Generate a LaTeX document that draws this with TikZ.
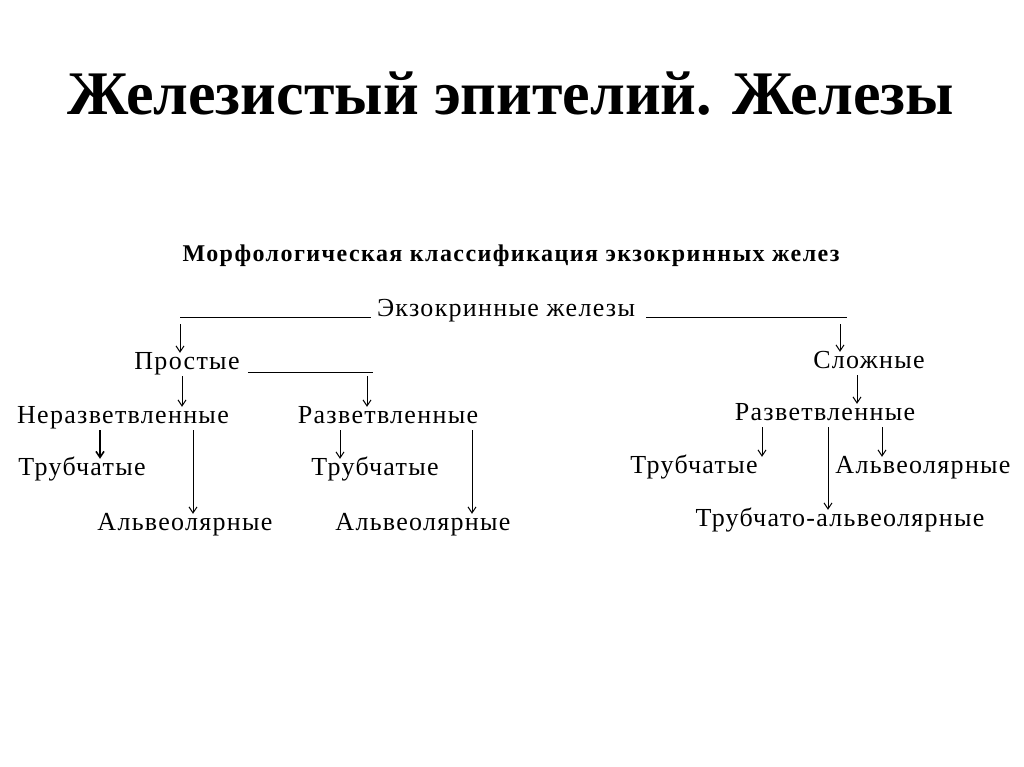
\documentclass[tikz,border=0pt]{standalone}
\usepackage{fontspec}
\setmainfont{Liberation Serif}
\newfontfamily\diagfont[LetterSpace=5]{Liberation Serif}
\newfontfamily\subfont[LetterSpace=6]{Liberation Serif}
\usetikzlibrary{arrows.meta}

\begin{document}
\begin{tikzpicture}[x=1pt, y=-1pt,
  ttl/.style={inner sep=0pt, anchor=base, font=\bfseries\fontsize{62}{62}\selectfont},
  sub/.style={inner sep=0pt, anchor=base, font=\subfont\bfseries\fontsize{24}{24}\selectfont},
  lbl/.style={inner sep=3pt, anchor=base, text height=13pt, text depth=4pt,
    font=\diagfont\fontsize{26}{26}\selectfont},
  arr/.style={-{Straight Barb[length=6pt,width=8pt]}, line width=1pt},
  bar/.style={line width=1pt},
]

\fill[white] (0,0) rectangle (1024,767);
\useasboundingbox (0,0) rectangle (1024,767);

\node[ttl] (title) at (511,115) {Железистый эпителий. Железы};
\node[sub] (sub)   at (511,261) {Морфологическая классификация экзокринных желез};

\node[lbl] (ekz)    at (506,316) {Экзокринные железы};
\node[lbl] (prost)  at (187,369) {Простые};
\node[lbl] (slozh)  at (869,368) {Сложные};

\node[lbl] (ner)    at (123,423) {Неразветвленные};
\node[lbl] (razv1)  at (388,423) {Разветвленные};
\node[lbl] (razv2)  at (825,420) {Разветвленные};

\node[lbl] (trub1)  at (82,475)  {Трубчатые};
\node[lbl] (trub2)  at (375,475) {Трубчатые};
\node[lbl] (trub3)  at (694,473) {Трубчатые};
\node[lbl] (alv3)   at (923,473) {Альвеолярные};

\node[lbl] (alv1)   at (185,530) {Альвеолярные};
\node[lbl] (alv2)   at (423,530) {Альвеолярные};
\node[lbl] (ta)     at (840,526) {Трубчато-альвеолярные};

\coordinate (tl) at (180,317);
\coordinate (tr) at (840,317);
\coordinate (pr) at (370,372);

% top bar
\draw[bar] ([xshift=-3]ekz.west |- tl) -- (tl);
\draw[bar] ([xshift=8]ekz.east |- tr) -- ([xshift=7]tr);
\draw[arr] ([yshift=-7]tl) -- (tl |- prost.north);
\draw[arr] ([yshift=-7]tr) -- (tr |- slozh.north);

% simple glands
\draw[bar] ([xshift=5]prost.east |- pr) -- ([xshift=3]pr);
\draw[arr] ([xshift=-5]prost.south) -- ([xshift=59]ner.north);
\draw[arr] ([xshift=-3,yshift=-4]pr) -- ([xshift=-21]razv1.north);
\draw[arr, line width=1.6pt] ([xshift=-23]ner.south) -- ([xshift=18]trub1.north);
\draw[arr] ([xshift=70]ner.south) -- ([xshift=8]alv1.north);
\draw[arr] ([xshift=-48]razv1.south) -- ([xshift=-35]trub2.north);
\draw[arr] ([xshift=84]razv1.south) -- ([xshift=49]alv2.north);

% compound glands
\draw[arr] ([xshift=-12]slozh.south) -- ([xshift=32]razv2.north);
\draw[arr] ([xshift=-63]razv2.south) -- ([xshift=68]trub3.north);
\draw[arr] ([xshift=57]razv2.south) -- ([xshift=-41]alv3.north);
\draw[arr] ([xshift=3]razv2.south) -- ([xshift=-12]ta.north);

\end{tikzpicture}
\end{document}
